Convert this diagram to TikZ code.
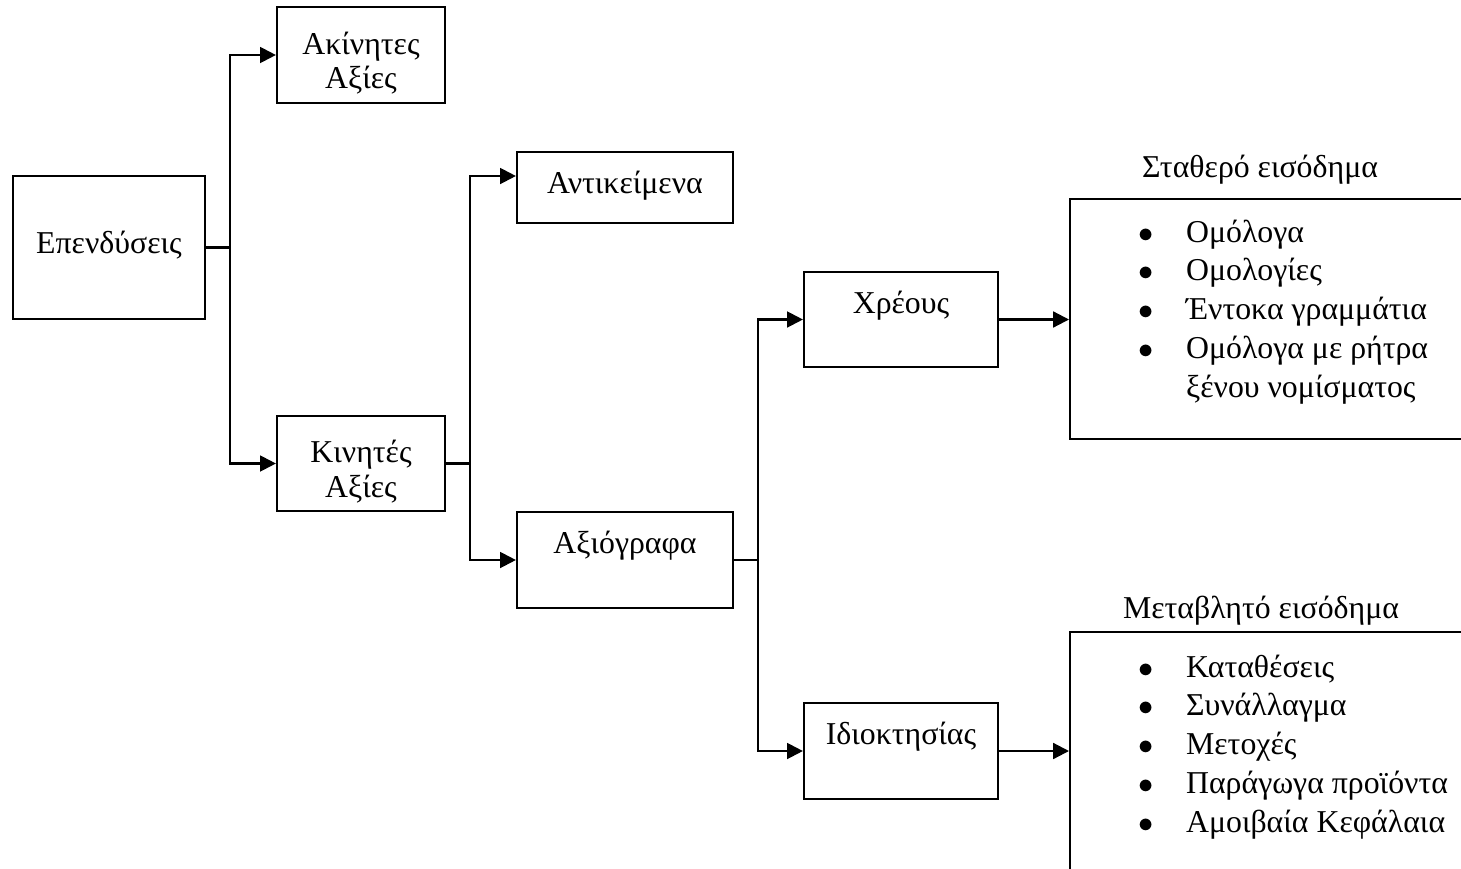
\documentclass[tikz,border=0pt]{standalone}
\usepackage{fontspec}
\setmainfont{Liberation Serif}
\usetikzlibrary{calc, arrows.meta, positioning}

\begin{document}
\begin{tikzpicture}[x=0.02cm, y=-0.02cm, >={Triangle[length=9pt, width=9pt]}, line width=1.25pt, font=\fontsize{18.1}{19.8}\selectfont]
	\tikzstyle{box} = [draw=black, rectangle, inner sep=0pt, align=center]
	\tikzstyle{midtext} = [text height=14pt, text depth=7pt]
	\tikzstyle{toptext} = [text height=14pt, text depth=21pt]
	\tikzstyle{openbox} = [draw=black, rectangle, minimum width=9.2cm, minimum height=4.8cm, anchor=west]
	\tikzstyle{list} = [anchor=base west, inner sep=0pt, font=\fontsize{18.1}{22.1}\selectfont]

	\useasboundingbox (0, 0) rectangle (1461, 869);
	\clip (0, 0) rectangle (1461, 869);

	\node[box, midtext, minimum width=3.84cm, minimum height=2.86cm] at (109, 247.5) (inv) {Επενδύσεις};
	\node[box, minimum width=3.36cm, minimum height=1.92cm] at (361, 55) (fix) {\rule{0pt}{22pt}Ακίνητες\\Αξίες};
	\node[box, minimum width=3.36cm, minimum height=1.9cm] at (361, 463.5) (mov) {\rule{0pt}{22pt}Κινητές\\Αξίες};
	\node[box, midtext, minimum width=4.32cm, minimum height=1.42cm] at (625, 187.5) (obj) {Αντικείμενα};
	\node[box, toptext, minimum width=4.32cm, minimum height=1.92cm] at (625, 560) (sec) {Αξιόγραφα};
	\node[box, toptext, minimum width=3.88cm, minimum height=1.9cm] at (901, 319.5) (debt) {Χρέους};
	\node[box, toptext, minimum width=3.88cm, minimum height=1.92cm] at (901, 751) (own) {Ιδιοκτησίας};

	% income groups
	\node[openbox] at (1069, 319) (fixbox) {};
	\node[openbox] at (1069, 752) (varbox) {};
	\node[anchor=base] at (1260, 177) (fixhead) {Σταθερό εισόδημα};
	\node[anchor=base] at (1261, 618) (varhead) {Μεταβλητό εισόδημα};
	\node[list] at (1137, 242) (fixlist) {\begin{tabular}[t]{@{}p{0.96cm}@{}l@{}}
		$\bullet$ & Ομόλογα\\
		$\bullet$ & Ομολογίες\\
		$\bullet$ & Έντοκα γραμμάτια\\
		$\bullet$ & Ομόλογα με ρήτρα\\
		& ξένου νομίσματος
	\end{tabular}};
	\node[list] at (1137, 677) (varlist) {\begin{tabular}[t]{@{}p{0.96cm}@{}l@{}}
		$\bullet$ & Καταθέσεις\\
		$\bullet$ & Συνάλλαγμα\\
		$\bullet$ & Μετοχές\\
		$\bullet$ & Παράγωγα προϊόντα\\
		$\bullet$ & Αμοιβαία Κεφάλαια
	\end{tabular}};

	\draw[->] (inv.east) -- ++(24, 0) |- (fix.west);
	\draw[->] (inv.east) -- ++(24, 0) |- (mov.west);
	\draw[->] (mov.east) -- ++(24, 0) |- ([yshift=0.23cm]obj.west);
	\draw[->] (mov.east) -- ++(24, 0) |- (sec.west);
	\draw[->] (sec.east) -- ++(24, 0) |- (debt.west);
	\draw[->] (sec.east) -- ++(24, 0) |- (own.west);
	\draw[->] (debt.east) -- (debt.east -| fixbox.west);
	\draw[->] (own.east) -- (own.east -| varbox.west);
\end{tikzpicture}
\end{document}
